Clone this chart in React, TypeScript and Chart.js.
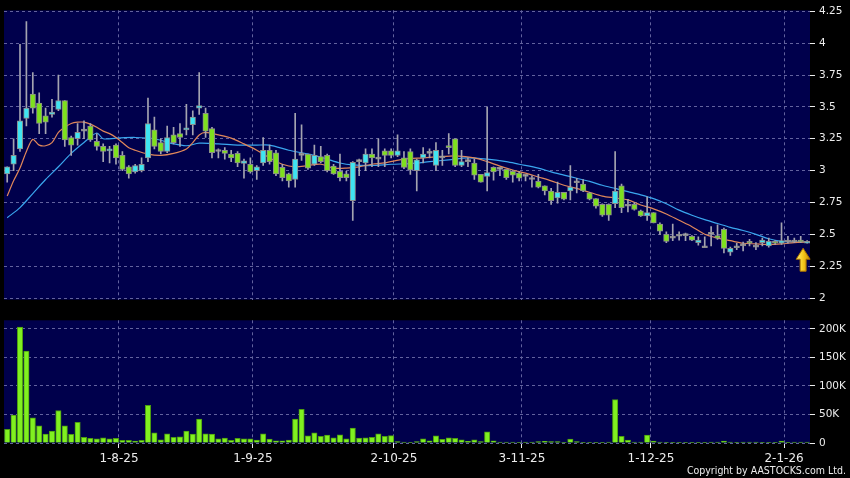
import React, { useEffect, useRef } from 'react';
import { Chart, registerables } from 'chart.js';

Chart.register(...registerables);

// ---- Data ----
const opens = [2.975,3.05,3.17,3.41,3.60,3.53,3.43,3.44,3.48,3.55,3.26,3.25,3.31,3.35,3.23,3.19,3.155,3.20,3.12,3.03,2.99,3.00,3.10,3.32,3.22,3.15,3.28,3.29,3.32,3.36,3.49,3.45,3.33,3.15,3.16,3.13,3.135,3.056,3.05,3.00,3.06,3.16,3.14,3.025,2.975,2.93,3.12,3.13,3.05,3.11,3.12,3.035,2.995,2.975,2.765,3.07,3.06,3.13,3.09,3.155,3.155,3.12,3.10,3.15,3.00,3.10,3.135,3.04,3.10,3.19,3.25,3.04,3.07,3.06,2.97,2.955,3.025,3.01,3.01,2.995,2.98,2.955,2.93,2.915,2.88,2.84,2.785,2.83,2.84,2.905,2.895,2.825,2.78,2.735,2.735,2.74,2.88,2.72,2.735,2.685,2.645,2.67,2.58,2.50,2.47,2.485,2.49,2.485,2.435,2.395,2.50,2.49,2.54,2.36,2.395,2.41,2.445,2.40,2.435,2.41,2.445,2.43,2.44,2.44,2.455,2.43];
const highs = [3.03,3.25,3.99,4.17,3.77,3.61,3.49,3.56,3.75,3.55,3.27,3.37,3.39,3.37,3.29,3.21,3.19,3.21,3.15,3.04,3.05,3.10,3.57,3.42,3.25,3.35,3.34,3.37,3.52,3.47,3.77,3.49,3.34,3.17,3.18,3.16,3.15,3.09,3.10,3.04,3.26,3.20,3.16,3.05,2.98,3.45,3.36,3.13,3.20,3.19,3.13,3.05,3.13,2.995,3.07,3.09,3.17,3.17,3.25,3.17,3.17,3.28,3.15,3.17,3.09,3.18,3.17,3.22,3.16,3.29,3.25,3.16,3.10,3.09,2.97,3.50,3.03,3.02,3.01,3.00,2.99,2.97,2.96,2.97,2.88,2.86,2.91,2.83,3.04,2.94,2.93,2.83,2.78,2.74,2.74,3.15,2.895,2.775,2.75,2.69,2.795,2.67,2.59,2.52,2.58,2.52,2.51,2.49,2.48,2.48,2.56,2.575,2.55,2.40,2.43,2.44,2.46,2.435,2.47,2.47,2.45,2.59,2.485,2.47,2.485,2.45];
const lows = [2.91,3.00,3.15,3.35,3.45,3.29,3.29,3.42,3.47,3.19,3.12,3.20,3.25,3.23,3.16,3.07,3.06,3.05,3.00,2.94,2.98,2.99,3.07,3.17,3.13,3.14,3.21,3.19,3.28,3.28,3.44,3.26,3.10,3.10,3.09,3.07,3.03,2.94,2.98,2.93,3.04,3.05,2.96,2.92,2.87,2.87,3.08,3.01,3.04,3.06,2.99,2.97,2.92,2.92,2.61,2.96,3.00,3.03,3.03,3.03,3.10,3.11,3.015,2.97,2.84,3.06,3.10,3.00,3.04,3.13,3.03,3.03,3.03,2.93,2.91,2.84,2.925,2.96,2.93,2.91,2.92,2.92,2.87,2.865,2.81,2.735,2.745,2.77,2.77,2.825,2.835,2.77,2.705,2.64,2.61,2.71,2.67,2.675,2.69,2.64,2.61,2.59,2.50,2.435,2.45,2.455,2.45,2.45,2.415,2.395,2.41,2.46,2.355,2.335,2.38,2.37,2.41,2.38,2.41,2.40,2.42,2.42,2.43,2.435,2.435,2.43];
const closes = [3.03,3.12,3.39,3.49,3.49,3.37,3.38,3.46,3.55,3.24,3.20,3.30,3.31,3.24,3.19,3.15,3.17,3.10,3.01,2.975,3.04,3.05,3.37,3.19,3.15,3.26,3.22,3.26,3.335,3.42,3.51,3.31,3.14,3.15,3.135,3.10,3.06,3.077,2.99,3.03,3.16,3.07,2.975,2.945,2.92,3.09,3.12,3.02,3.12,3.07,3.00,2.975,2.945,2.945,3.065,3.07,3.13,3.10,3.09,3.12,3.12,3.155,3.025,3.005,3.085,3.13,3.135,3.16,3.10,3.18,3.04,3.07,3.07,2.965,2.91,2.985,2.99,3.01,2.945,2.965,2.94,2.955,2.93,2.87,2.84,2.765,2.83,2.775,2.87,2.905,2.84,2.775,2.72,2.65,2.65,2.84,2.71,2.72,2.695,2.645,2.67,2.59,2.525,2.445,2.47,2.485,2.49,2.455,2.455,2.395,2.50,2.47,2.39,2.39,2.395,2.41,2.43,2.40,2.455,2.445,2.43,2.45,2.44,2.44,2.44,2.445];
const volumesK = [24,49,203,161,44,30,15.5,21,57,30,15,36,10,8,7.5,9,7.5,8,4.6,4.6,3.5,4.6,66,18,5.7,16,10,11,21,15.5,42,16,15.5,7.5,8.6,4.6,8,7.5,7.5,5,16,7,4,4,5,42,59,12.6,18,11.5,14,9,14.5,7.5,26,8.6,9,10,16,11.5,13,2.3,1.7,0.6,2.3,7.5,4,12.6,6.3,9,8,5.7,2.9,5.7,2.3,19.5,4,1.7,1.7,1.7,1.1,1.7,1.7,2.3,2.9,2.3,2.3,1.1,7,2.3,1.1,1.1,1.1,1.1,1.7,76,11.5,5,1.7,1.7,14,3.5,1.7,1.1,1.1,0.6,0.6,0.6,1.1,0.6,1.7,1.7,3.5,1.7,0.6,1.7,1.7,1.7,0.6,0.6,0.6,3.5,0.6,1.7,1.7,1.7];

const maShortIdx = [0,1,2,3,4,5,6,7,8,9,10,11,12,13,14,15,16,17,18,19,20,22,24,26,28,29,30,31,33,35,37,39,41,43,45,47,49,51,53,55,57,59,62,65,68,70,73,75,77,79,81,83,85,87,89,91,93,95,97,99,101,103,105,107,109,111,113,115,117,119,121,123,125];
const maShortVal = [2.80,2.92,3.02,3.15,3.245,3.20,3.195,3.22,3.30,3.34,3.37,3.38,3.38,3.365,3.34,3.31,3.29,3.26,3.22,3.18,3.16,3.13,3.12,3.135,3.17,3.22,3.28,3.30,3.28,3.255,3.21,3.16,3.10,3.05,3.03,3.04,3.05,3.02,3.02,3.03,3.05,3.06,3.09,3.10,3.11,3.115,3.10,3.07,3.035,3.005,2.98,2.95,2.92,2.885,2.86,2.83,2.80,2.785,2.77,2.73,2.70,2.66,2.61,2.56,2.50,2.47,2.45,2.43,2.425,2.42,2.425,2.435,2.44];
const maLongIdx = [0,2,4,6,8,10,12,14,15,17,20,23,26,28,30,33,36,39,41,44,46,48,50,52,54,57,60,63,66,69,72,75,78,80,83,85,87,89,91,93,95,97,99,101,103,105,107,109,111,113,115,117,119,121,123,125];
const maLongVal = [2.63,2.71,2.82,2.93,3.03,3.135,3.22,3.295,3.25,3.255,3.26,3.25,3.21,3.195,3.215,3.21,3.20,3.20,3.20,3.16,3.14,3.12,3.09,3.06,3.045,3.04,3.05,3.055,3.07,3.085,3.10,3.09,3.07,3.05,3.02,2.99,2.965,2.94,2.915,2.885,2.86,2.835,2.81,2.78,2.74,2.69,2.65,2.615,2.585,2.555,2.53,2.50,2.465,2.445,2.44,2.44];

const dateTickPos = [17.47, 38.4, 60.44, 80.44, 100.6, 121.4];
const dateTickLabels = ['1-8-25', '1-9-25', '2-10-25', '3-11-25', '1-12-25', '2-1-26'];
const priceTicks = [2, 2.25, 2.5, 2.75, 3, 3.25, 3.5, 3.75, 4, 4.25];
const volTicksK = [0, 50, 100, 150, 200];

// ---- Styles ----
const NAVY = '#00004c';
const GRID = '#62629e';
const TEXT = '#ececec';
const UP = '#3fe4f2';
const DOWN = '#7ee01e';
const DOJI = '#a8a8a8';
const WICK = '#a4a4b0';
const ORANGE = '#e0875a';
const BLUE = '#3aa6ee';
const VOL = '#80f020';
const VOL_BORDER = '#4c9c10';
const X_MIN = -0.5;
const X_MAX = 125.45;

const plotBg = {
  id: 'plotBg',
  beforeDraw(chart: any) {
    const { ctx, chartArea } = chart;
    ctx.save();
    ctx.fillStyle = NAVY;
    ctx.fillRect(chartArea.left, chartArea.top, chartArea.width, chartArea.height);
    ctx.restore();
  },
};

const arrowPlugin = {
  id: 'lastArrow',
  afterDatasetsDraw(chart: any) {
    const last = closes.length - 1;
    const ctx = chart.ctx;
    const x = chart.scales.x.getPixelForValue(last) - 4;
    const y = chart.scales.y.getPixelForValue(lows[last]) + 5;
    ctx.save();
    const g = ctx.createLinearGradient(x - 7, 0, x + 7, 0);
    g.addColorStop(0, '#fff27a');
    g.addColorStop(0.5, '#f6c81c');
    g.addColorStop(1, '#c98a00');
    ctx.fillStyle = g;
    ctx.strokeStyle = '#a87000';
    ctx.lineWidth = 1;
    ctx.beginPath();
    ctx.moveTo(x, y);
    ctx.lineTo(x + 7, y + 11);
    ctx.lineTo(x + 3, y + 11);
    ctx.lineTo(x + 3, y + 23);
    ctx.lineTo(x - 3, y + 23);
    ctx.lineTo(x - 3, y + 11);
    ctx.lineTo(x - 7, y + 11);
    ctx.closePath();
    ctx.fill();
    ctx.stroke();
    ctx.restore();
  },
};

export default function App() {
  const priceRef = useRef<HTMLCanvasElement>(null);
  const volRef = useRef<HTMLCanvasElement>(null);

  useEffect(() => {
    const idx = closes.map((_, i) => i);
    const bodyColors = idx.map((i) =>
      closes[i] > opens[i] ? UP : closes[i] < opens[i] ? DOWN : DOJI
    );

    const xGrid = {
      color: GRID,
      tickColor: TEXT,
      tickBorderDash: [],
      offset: false,
    };

    const price = new Chart(priceRef.current as HTMLCanvasElement, {
      type: 'bar',
      data: {
        datasets: [
          {
            type: 'line',
            data: maLongIdx.map((x, k) => ({ x, y: maLongVal[k] })),
            borderColor: BLUE,
            borderWidth: 1.2,
            pointRadius: 0,
            tension: 0.3,
            order: 6,
          } as any,
          {
            type: 'line',
            data: maShortIdx.map((x, k) => ({ x, y: maShortVal[k] })),
            borderColor: ORANGE,
            borderWidth: 1.2,
            pointRadius: 0,
            tension: 0.3,
            order: 5,
          } as any,
          {
            type: 'bar',
            data: idx.map((i) => ({ x: i, y: [lows[i], highs[i]] })),
            backgroundColor: WICK,
            barThickness: 1,
            grouped: false,
            borderWidth: 0,
            order: 3,
          } as any,
          {
            type: 'bar',
            data: idx.map((i) => ({ x: i, y: [opens[i], closes[i]] })),
            backgroundColor: bodyColors,
            borderColor: '#8c8c8c',
            borderWidth: 1,
            borderSkipped: false,
            barThickness: 5.5,
            minBarLength: 2,
            grouped: false,
            order: 2,
          } as any,
        ],
      },
      options: {
        animation: false,
        responsive: false,
        maintainAspectRatio: false,
        events: [],
        layout: { padding: { left: 4, top: 7, right: 0, bottom: 6 } },
        plugins: { legend: { display: false }, tooltip: { enabled: false } },
        scales: {
          x: {
            type: 'linear',
            min: X_MIN,
            max: X_MAX,
            offset: false,
            afterBuildTicks: (s: any) => {
              s.ticks = dateTickPos.map((v) => ({ value: v }));
            },
            afterFit: (s: any) => {
              s.height = 0;
            },
            ticks: { display: false },
            grid: { ...xGrid, drawTicks: false },
            border: { display: false, dash: [3, 3] },
          },
          y: {
            position: 'right',
            min: 1.987,
            max: 4.258,
            afterBuildTicks: (s: any) => {
              s.ticks = priceTicks.map((v) => ({ value: v }));
            },
            afterFit: (s: any) => {
              s.width = 40;
            },
            ticks: {
              color: TEXT,
              padding: 4,
              font: { family: 'DejaVu Sans', size: 10.5 },
              callback: (v: any) => String(v),
            },
            grid: { color: GRID, tickColor: TEXT, tickLength: 5, tickBorderDash: [] },
            border: { display: false, dash: [3, 3] },
          },
        },
      } as any,
      plugins: [plotBg, arrowPlugin],
    });

    const volume = new Chart(volRef.current as HTMLCanvasElement, {
      type: 'bar',
      data: {
        datasets: [
          {
            data: idx.map((i) => ({ x: i, y: volumesK[i] * 1000 })),
            backgroundColor: VOL,
            borderColor: VOL_BORDER,
            borderWidth: 1,
            borderSkipped: 'bottom',
            barThickness: 5.4,
            grouped: false,
          } as any,
        ],
      },
      options: {
        animation: false,
        responsive: false,
        maintainAspectRatio: false,
        events: [],
        layout: { padding: { left: 4, top: 8, right: 0, bottom: 0 } },
        plugins: { legend: { display: false }, tooltip: { enabled: false } },
        scales: {
          x: {
            type: 'linear',
            min: X_MIN,
            max: X_MAX,
            offset: false,
            afterBuildTicks: (s: any) => {
              s.ticks = dateTickPos.map((v) => ({ value: v }));
            },
            afterFit: (s: any) => {
              s.height = 35;
            },
            ticks: {
              color: TEXT,
              autoSkip: false,
              maxRotation: 0,
              padding: 4,
              font: { family: 'DejaVu Sans', size: 12 },
              callback: (_v: any, i: number) => dateTickLabels[i],
            },
            grid: { ...xGrid, tickLength: 5 },
            border: { display: false, dash: [3, 3] },
          },
          y: {
            position: 'right',
            min: 0,
            max: 215000,
            afterBuildTicks: (s: any) => {
              s.ticks = volTicksK.map((v) => ({ value: v * 1000 }));
            },
            afterFit: (s: any) => {
              s.width = 40;
            },
            ticks: {
              color: TEXT,
              padding: 4,
              font: { family: 'DejaVu Sans', size: 10.5 },
              callback: (v: any) => (v === 0 ? '0' : v / 1000 + 'K'),
            },
            grid: { color: GRID, tickColor: TEXT, tickLength: 5, tickBorderDash: [] },
            border: { display: false, dash: [3, 3] },
          },
        },
      } as any,
      plugins: [plotBg],
    });

    return () => {
      price.destroy();
      volume.destroy();
    };
  }, []);

  return (
    <div
      style={{
        position: 'fixed',
        left: 0,
        top: 0,
        width: 850,
        height: 478,
        background: '#000',
        overflow: 'hidden',
      }}
    >
      <canvas
        ref={priceRef}
        width={850}
        height={310}
        style={{ position: 'absolute', left: 0, top: 0, width: 850, height: 310 }}
      />
      <canvas
        ref={volRef}
        width={850}
        height={168}
        style={{ position: 'absolute', left: 0, top: 310, width: 850, height: 168 }}
      />
      <div
        style={{
          position: 'absolute',
          right: 4,
          top: 463,
          color: TEXT,
          fontFamily: '"DejaVu Sans Condensed", "DejaVu Sans", sans-serif',
          fontStretch: 'condensed',
          fontSize: 10.5,
          lineHeight: '14px',
          whiteSpace: 'nowrap',
        }}
      >
        Copyright by AASTOCKS.com Ltd.
      </div>
    </div>
  );
}
